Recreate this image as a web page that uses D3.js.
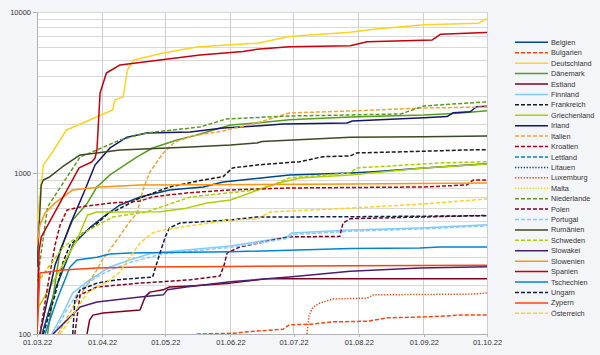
<!DOCTYPE html>
<html><head><meta charset="utf-8">
<script src="https://cdn.jsdelivr.net/npm/d3@7"></script>
<style>
html,body{margin:0;padding:0;background:#f3f5f9;}
svg{display:block;font-family:"Liberation Sans",Arial,sans-serif;}
</style></head>
<body><svg id="c" width="600" height="355"></svg>
<script>
// ---- data: [day offset from 01.03.22, value] ----
const categories = ["Belgien","Bulgarien","Deutschland","Dänemark","Estland","Finnland","Frankreich","Griechenland","Irland","Italien","Kroatien","Lettland","Litauen","Luxemburg","Malta","Niederlande","Polen","Portugal","Rumänien","Schweden","Slowakei","Slowenien","Spanien","Tschechien","Ungarn","Zypern","Österreich"];
const xTickLabels = ["01.03.22","01.04.22","01.05.22","01.06.22","01.07.22","01.08.22","01.09.22","01.10.22"];
const yTickLabels = ["100","1000","10000"];

const belgien = [[2.4,100],[8.6,188],[17,357],[25,456],[31.4,533],[39.5,633],[49,710],[63,785],[79,819],[88.5,880],[120,973],[149,1000],[160,1019],[184,1075],[214,1140]];
const bulgarien = [[76,100],[93,101],[103,104],[117,107],[120,114],[130,115],[141,119],[157,120],[166.5,126],[188,128],[201,131],[214,131]];
const deutschland = [[0,497],[3,1120],[8,1390],[14,1850],[36,2460],[37,2840],[41,2970],[43,4370],[46,5040],[60,5570],[76,6070],[92,6250],[105,6400],[120,7040],[149,7490],[160,7820],[184,8320],[210,8520],[213,8930],[214,9100]];
const daenemark = [[5,100],[11,333],[17,511],[24,652],[28.5,819],[34.7,973],[40.4,1090],[47.6,1258],[55,1430],[66.6,1604],[76,1723],[92,1988],[104.6,2046],[120,2140],[149,2230],[184,2293],[200,2350],[214,2440]];
const estland = [[23.8,100],[25,122],[26.6,131],[31.4,135],[49,141],[51.4,170],[53.7,182],[60,188],[63,196],[73,199],[92,207],[109,220],[214,220]];
const finnland = [[7,100],[12.4,135],[17,180],[25,217],[30,239],[34.7,261],[44,288],[55,319],[71,333],[92,352],[119,401],[121,424],[149,443],[182,456],[214,477]];
const frankreich = [[3,100],[8.6,175],[12.4,280],[15.7,357],[21.9,424],[26.6,462],[34.7,573],[38,589],[49,700],[63,819],[79,905],[88.5,949],[93,1075],[104.6,1122],[125,1176],[136,1263],[149,1276],[152,1332],[176,1357],[204.5,1390],[214,1396]];
const griechenland = [[0,141],[19,384],[24,549],[28.5,573],[58.5,575],[71,605],[81,652],[92,680],[109,819],[117,880],[125,932],[149,973],[184,1075],[214,1138]];
const irland = [[1.4,100],[8.6,268],[15.7,476],[22.8,785],[27.6,1122],[34.7,1430],[42.8,1670],[52.3,1773],[72.8,1798],[88.5,1905],[104.6,1960],[117,2017],[147.4,2046],[150,2105],[184,2200],[195,2240],[198,2370],[206,2400],[209,2580],[214,2600]];
const italien = [[10,100],[19,163],[27.6,239],[31,288],[38,384],[44,497],[47.6,565],[50.4,785],[53.7,1015],[57,1171],[60,1332],[65.6,1559],[74,1699],[88.5,1824],[104.6,2046],[120,2360],[149,2428],[184,2533],[214,2570]];
const kroatien = [[1.4,100],[5.2,202],[8.6,357],[11,476],[14.3,589],[20.5,615],[36,652],[49,670],[55,710],[71,752],[92,785],[120,807],[184,819],[204.5,843],[207.4,905],[214,905]];
const lettland = [];
const litauen = [];
const luxemburg = [[128.4,100],[129.4,131],[131.3,147],[134.6,156],[140.8,165],[157,167],[160,175],[207.4,177],[214,180]];
const malta = [];
const niederlande = [[0,207],[5,615],[20.5,1258],[28.5,1390],[39.5,1604],[52,1773],[77.5,1932],[90,2166],[120,2260],[149,2293],[173,2327],[184,2609],[213,2763],[214,2770]];
const polen = [[18,100],[19.5,141],[20.5,175],[28.5,196],[49,207],[73,217],[87,229],[89,268],[90.4,319],[96.5,347],[117,395],[120,401],[144,404],[145.5,489],[149,520],[214,545]];
const portugal = [[8,100],[14,140],[20,185],[28,225],[35,250],[45,280],[60,315],[92,345],[118,390],[122,415],[149,435],[184,450],[214,470]];
const rumaenien = [[0,261],[2,843],[3,905],[6,945],[12,1090],[20.5,1294],[28.5,1332],[39.5,1390],[73,1450],[92,1494],[104.6,1537],[107,1570],[149,1670],[184,1680],[214,1700]];
const schweden = [[0,207],[12.4,347],[22,424],[36,533],[52,573],[73,710],[104.6,785],[112,843],[120,932],[149,1000],[152,1075],[191.6,1154],[214,1176]];
const slowakei = [[7.6,100],[20.5,147],[28.5,158],[49,170],[60,175],[62,188],[71,196],[92,211],[120,226],[149,245],[182,257],[214,262]];
const slowenien = [[0,357],[1.4,476],[3.8,565],[8.6,652],[17,785],[30,819],[49,843],[149,855],[214,867]];
const spanien = [[0,90],[1,330],[2,400],[20,1075],[26,1170],[27.6,1240],[28.5,1390],[30,3140],[33,4180],[39.5,4690],[49,4850],[77.5,5410],[98,5680],[104.6,5870],[120,6080],[149,6170],[157,6540],[188,6710],[192,7280],[213,7450],[214,7460]];
const tschechien = [[3.8,100],[9.5,163],[15.7,261],[19,288],[28.5,300],[34.7,314],[44,319],[92,324],[149,340],[182,342],[191.6,347],[214,347]];
const ungarn = [[17,100],[18,163],[19,170],[20.5,188],[28.5,207],[38,217],[55,226],[57,276],[58.5,319],[61,401],[63,456],[68,489],[92,511],[104.6,533],[149,535],[214,543]];
const zypern = [[0,100],[1.4,239],[12.4,250],[28.5,257],[49,261],[92,263],[149,265],[214,267]];
const oesterreich = [[11,100],[24,180],[34.7,217],[39.5,243],[44,297],[49,368],[55,424],[60,443],[69.4,463],[92,511],[104.6,518],[111,573],[149,605],[184,642],[214,690]];

const seriesValues = [belgien,bulgarien,deutschland,daenemark,estland,finnland,frankreich,griechenland,irland,italien,kroatien,lettland,litauen,luxemburg,malta,niederlande,polen,portugal,rumaenien,schweden,slowakei,slowenien,spanien,tschechien,ungarn,zypern,oesterreich];

// ---- styles ----
const colors = ["#004586","#ff420e","#ffd320","#579d1c","#7e0021","#83caff","#1a1a1a","#aecf00","#15156b","#f5a236","#b5000f","#0084d1","#004586","#ff420e","#ffd320","#579d1c","#7e0021","#83caff","#3b4a22","#aecf00","#4b1f6f","#ff950e","#c5000b","#0084d1","#0d1f4d","#ff420e","#ffd320"];
const dashes = ["solid","dash","solid","solid","solid","solid","dash","solid","solid","dash","dash","dash","dot","dot","dot","dash","dash","dash","solid","dash","solid","solid","solid","solid","dash","solid","dash"];
const dashArr = {solid:null, dash:"4,2", dot:"1.3,1.6"};

const svg = d3.select("#c");
const L = 37, R = 487, T = 12, B = 334;
const start = Date.UTC(2022,2,1);
const toDate = d => new Date(start + d*864e5);

const x = d3.scaleUtc().domain([new Date(Date.UTC(2022,2,1)), new Date(Date.UTC(2022,9,1))]).range([L,R]);
const y = d3.scaleLog().domain([100,10000]).range([B,T]);

svg.append("rect").attr("x",L).attr("y",T).attr("width",R-L).attr("height",B-T).attr("fill","#ffffff");

// grid
const minor = [];
[100,1000].forEach(b=>{for(let k=2;k<=9;k++) minor.push(b*k);});
svg.append("g").selectAll("line").data(minor.concat([1000,10000])).join("line")
  .attr("x1",L).attr("x2",R).attr("y1",d=>y(d)).attr("y2",d=>y(d))
  .attr("stroke","#d9d9d9").attr("stroke-width",1).attr("shape-rendering","crispEdges");
const monthTicks = d3.utcMonth.range(new Date(Date.UTC(2022,2,1)), new Date(Date.UTC(2022,9,2)));
svg.append("g").selectAll("line").data(monthTicks).join("line")
  .attr("x1",d=>x(d)).attr("x2",d=>x(d)).attr("y1",T).attr("y2",B)
  .attr("stroke","#cfcfcf").attr("stroke-width",1).attr("shape-rendering","crispEdges");

// axes
const fmt = d3.utcFormat("%d.%m.%y");
const xAxis = d3.axisBottom(x).tickValues(monthTicks).tickFormat((d,i)=>xTickLabels[i]).tickSize(3).tickPadding(3);
const gx = svg.append("g").attr("transform",`translate(0,${B})`).call(xAxis);
const yAxis = d3.axisLeft(y).tickValues([100,1000,10000]).tickFormat((d,i)=>yTickLabels[i]).tickSize(4).tickPadding(2);
const gy = svg.append("g").attr("transform",`translate(${L},0)`).call(yAxis);
[gx,gy].forEach(g=>{
  g.select(".domain").attr("stroke","#b3b3b3").attr("shape-rendering","crispEdges");
  g.selectAll(".tick line").attr("stroke","#b3b3b3").attr("shape-rendering","crispEdges");
  g.selectAll("text").attr("fill","#333").attr("font-size","7.5px").attr("font-family","Liberation Sans, Arial, sans-serif");
});

// lines
svg.append("clipPath").attr("id","clip").append("rect").attr("x",L).attr("y",T-2).attr("width",R-L+2).attr("height",B-T+2);
const line = d3.line().x(d=>x(toDate(d[0]))).y(d=>y(d[1]));
const gl = svg.append("g").attr("clip-path","url(#clip)");
categories.forEach((c,i)=>{
  const data = seriesValues[i];
  if(!data.length) return;
  gl.append("path").datum(data).attr("d",line)
    .attr("fill","none").attr("stroke",colors[i]).attr("stroke-width",1.5)
    .attr("stroke-linejoin","round")
    .attr("stroke-dasharray",dashArr[dashes[i]]);
});

// legend
const lg = svg.append("g");
const ly = d3.scalePoint().domain(categories).range([42.3,313.3]);
categories.forEach((c,i)=>{
  const yy = ly(c);
  lg.append("line").attr("x1",515).attr("x2",548).attr("y1",yy).attr("y2",yy)
    .attr("stroke",colors[i]).attr("stroke-width",1.5).attr("stroke-dasharray",dashArr[dashes[i]]);
  lg.append("text").attr("x",551).attr("y",yy).attr("dy","0.35em")
    .attr("font-size","7.3px").attr("fill","#333").text(c);
});
</script></body></html>
